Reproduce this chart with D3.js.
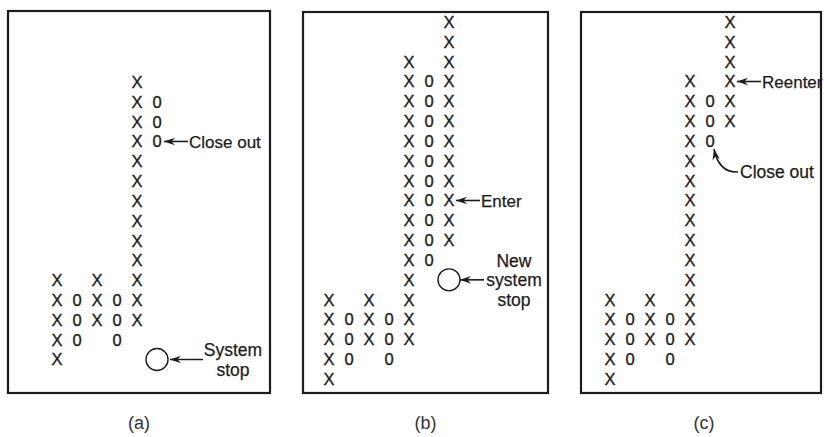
<!DOCTYPE html>
<html>
<head>
<meta charset="utf-8">
<script src="https://cdnjs.cloudflare.com/ajax/libs/d3/7.8.5/d3.min.js"></script>
<style>
  body { margin: 0; background: #fff; }
  text { font-family: "Liberation Sans", Arial, Helvetica, sans-serif; }
</style>
</head>
<body>
<div id="chart"></div>
<script>
// point & figure columns: box type, lowest and highest box level
var typesA = ["X", "0", "X", "0", "X", "0"]
var lowA   = [0, 1, 2, 1, 2, 11]
var highA  = [4, 3, 4, 3, 14, 13]

var typesB = ["X", "0", "X", "0", "X", "0", "X"]
var lowB   = [0, 1, 2, 1, 2, 6, 7]
var highB  = [4, 3, 4, 3, 16, 15, 18]

var typesC = ["X", "0", "X", "0", "X", "0", "X"]
var lowC   = [0, 1, 2, 1, 2, 12, 13]
var highC  = [4, 3, 4, 3, 15, 14, 18]

// annotations: column, level, kind, text lines
var notesA = [
  { col: 6, level: 11, kind: "arrow", lines: ["Close out"] },
  { col: 6, level: 0,  kind: "stop",  lines: ["System", "stop"] }
]
var notesB = [
  { col: 7, level: 9, kind: "arrow", lines: ["Enter"] },
  { col: 7, level: 5, kind: "stop",  lines: ["New", "system", "stop"] }
]
var notesC = [
  { col: 7, level: 15, kind: "arrow", lines: ["Reenter"] },
  { col: 6, level: 12, kind: "curve", lines: ["Close out"] }
]

var captions = ["(a)", "(b)", "(c)"]

var width = 824, height = 437
var ink = "#1c1c1c"

var svg = d3.select("#chart").append("svg")
    .attr("width", width).attr("height", height)

svg.append("defs").append("marker")
    .attr("id", "head")
    .attr("markerUnits", "userSpaceOnUse")
    .attr("markerWidth", 14).attr("markerHeight", 10)
    .attr("viewBox", "-12 -5 14 10")
    .attr("refX", 0).attr("refY", 0)
    .attr("orient", "auto")
  .append("path")
    .attr("d", "M0,0 L-11,-3.8 L-7.5,0 L-11,3.8 Z")
    .attr("fill", ink)

// layout of the three panels
var layout = [
  { box: [8, 11, 270, 393],  xr: [57, 177],  yr: [359.5, 2.7], stopGap: [13, 46],
    types: typesA, low: lowA, high: highA, notes: notesA },
  { box: [303, 12, 548, 393], xr: [329, 449], yr: [379, 22],   stopGap: [11, 35],
    types: typesB, low: lowB, high: highB, notes: notesB },
  { box: [581, 12, 821, 393], xr: [610, 730], yr: [379, 22],   stopGap: [11, 35],
    types: typesC, low: lowC, high: highC, notes: notesC }
]

function label(g, s, size) {
    return g.append("text")
        .attr("font-size", size).attr("fill", ink)
        .attr("stroke", ink).attr("stroke-width", 0.25)
        .text(s)
}

layout.forEach(function(p, i) {
    var g = svg.append("g")
    var x = d3.scaleLinear().domain([1, 7]).range(p.xr)
    var y = d3.scaleLinear().domain([0, 18]).range(p.yr)

    g.append("rect")
        .attr("x", p.box[0]).attr("y", p.box[1])
        .attr("width", p.box[2] - p.box[0]).attr("height", p.box[3] - p.box[1])
        .attr("fill", "none").attr("stroke", ink).attr("stroke-width", 2.2)

    var cells = []
    p.types.forEach(function(t, c) {
        d3.range(p.low[c], p.high[c] + 1).forEach(function(l) {
            cells.push({ col: c + 1, level: l, type: t })
        })
    })

    g.selectAll("text.box")
        .data(cells)
        .enter().append("text")
        .attr("class", "box")
        .attr("x", function(d) { return x(d.col) })
        .attr("y", function(d) { return y(d.level) })
        .attr("dy", "0.36em")
        .attr("text-anchor", "middle")
        .attr("font-size", 16.5)
        .attr("fill", ink)
        .attr("stroke", ink).attr("stroke-width", 0.35)
        .text(function(d) { return d.type })

    p.notes.forEach(function(n) {
        var cx = x(n.col), cy = y(n.level)
        if (n.kind == "arrow") {
            g.append("line")
                .attr("x1", cx + 31).attr("y1", cy)
                .attr("x2", cx + 7).attr("y2", cy)
                .attr("stroke", ink).attr("stroke-width", 1.6)
                .attr("marker-end", "url(#head)")
            label(g, n.lines[0], 17)
                .attr("x", cx + 32).attr("y", cy).attr("dy", "0.36em")
        } else if (n.kind == "stop") {
            g.append("circle")
                .attr("cx", cx).attr("cy", cy).attr("r", 11)
                .attr("fill", "none").attr("stroke", ink).attr("stroke-width", 1.4)
            g.append("line")
                .attr("x1", cx + p.stopGap[1]).attr("y1", cy)
                .attr("x2", cx + p.stopGap[0]).attr("y2", cy)
                .attr("stroke", ink).attr("stroke-width", 1.6)
                .attr("marker-end", "url(#head)")
            var k = n.lines.length
            n.lines.forEach(function(s, j) {
                label(g, s, 17.5)
                    .attr("x", cx + p.stopGap[1] + 30)
                    .attr("y", cy + (j - (k - 1) / 2) * 19.5)
                    .attr("dy", "0.36em")
                    .attr("text-anchor", "middle")
            })
        } else if (n.kind == "curve") {
            var tx = cx + 30, ty = cy + 31
            g.append("path")
                .attr("d", "M" + (tx - 2) + "," + ty + " Q" + (cx + 9) + "," + (ty + 1) + " " + (cx + 4) + "," + (cy + 8))
                .attr("fill", "none")
                .attr("stroke", ink).attr("stroke-width", 1.6)
                .attr("marker-end", "url(#head)")
            label(g, n.lines[0], 17.5)
                .attr("x", tx).attr("y", ty).attr("dy", "0.36em")
        }
    })

    svg.append("text")
        .attr("x", (p.box[0] + p.box[2]) / 2 + (i == 2 ? 3 : 0))
        .attr("y", 429)
        .attr("text-anchor", "middle")
        .attr("font-size", 18)
        .attr("fill", "#333")
        .text(captions[i])
})
</script>
</body>
</html>
